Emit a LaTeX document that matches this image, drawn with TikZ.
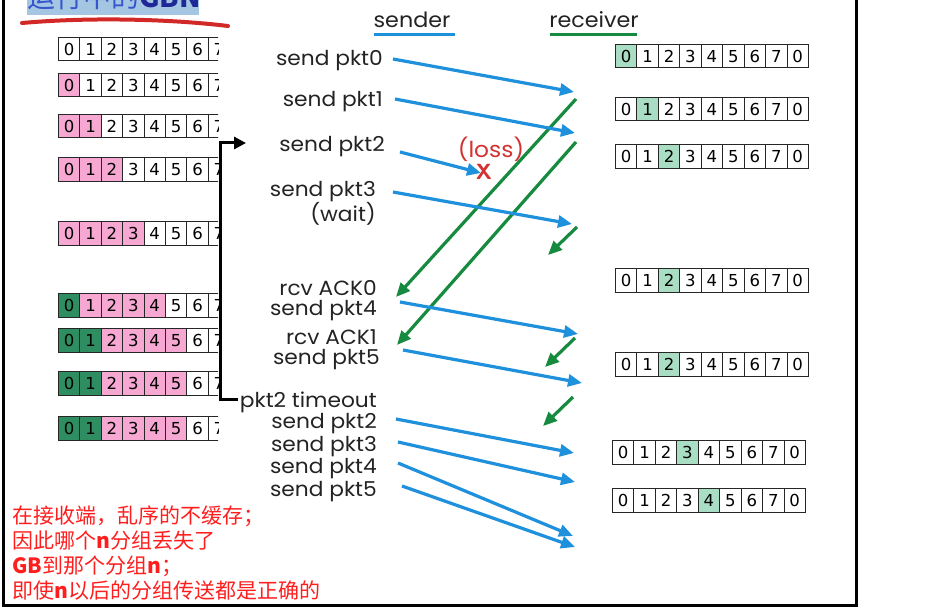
\documentclass[tikz,border=0pt]{standalone}
\usepackage{fontspec}
\setmainfont{DejaVu Sans}
\newfontfamily\lab[FakeStretch=1.06]{Poppins}
\newfontfamily\cjk{Noto Sans CJK SC}
\newfontfamily\cellfont{DejaVu Sans}
\usetikzlibrary{arrows.meta}
\definecolor{spink}{RGB}{247,168,210}
\definecolor{sgreen}{RGB}{47,142,97}
\definecolor{rgreen}{RGB}{170,222,196}
\definecolor{arrblue}{RGB}{30,144,220}
\definecolor{arrgreen}{RGB}{22,138,62}
\definecolor{redtxt}{RGB}{255,30,30}
\definecolor{losred}{RGB}{210,50,50}
\definecolor{labgray}{RGB}{35,35,35}
\definecolor{hlblue}{RGB}{164,198,226}
\definecolor{titleblue}{RGB}{55,85,205}
\definecolor{titledark}{RGB}{30,40,150}
\definecolor{swoosh}{RGB}{210,40,40}
\tikzset{
  lbl/.style={font=\lab\fontsize{20.5}{20.5}\selectfont, text=labgray, anchor=east, inner sep=0pt},
  cellbox/.style={draw=black!85, line width=0.8pt, minimum width=21.4pt, minimum height=23.5pt,
    inner sep=0pt, font=\cellfont\fontsize{16.5}{16.5}\selectfont},
  bluearr/.style={draw=arrblue, line width=3.2pt, -{Triangle[length=14pt,width=12pt]}},
  greenarr/.style={draw=arrgreen, line width=3.2pt, -{Triangle[length=14pt,width=12pt]}},
  redcn/.style={font=\cjk\fontsize{21}{21}\selectfont, text=redtxt, anchor=west, inner sep=0pt}
}
\newcommand\swin[4]{%
  \begin{scope}
  \clip (0,0) rectangle (218,615);
  \foreach \i in {0,...,7}{%
    \ifnum\i<#3\relax\def\fc{sgreen}\else\ifnum\i<#4\relax\def\fc{spink}\else\def\fc{white}\fi\fi
    \node[cellbox, fill=\fc, anchor=north west] (#1c\i) at ({58+21.4*\i},#2) {\i};
  }
  \end{scope}}
\newcommand\rwin[4]{%
  \foreach \d [count=\k from 0] in {0,1,2,3,4,5,6,7,0}{%
    \ifnum\k=#4\relax\def\fc{rgreen}\else\def\fc{white}\fi
    \node[cellbox, fill=\fc, anchor=north west] (#1c\k) at ({#2+21.45*\k},#3) {\d};
  }}
\begin{document}
\begin{tikzpicture}[x=1pt,y=-1pt]
\useasboundingbox (0,0) rectangle (945,615);
\clip (0,0) rectangle (945,615);
% frame
\draw[line width=3pt] (3,-10) rectangle (856,605);
% title
\fill[hlblue] (27,-2) rectangle (199,15);
\node[anchor=base west, inner sep=0pt, font=\cjk\fontsize{28}{28}\selectfont] (title) at (27,8)
  {\textcolor{titleblue}{运行中的}\textcolor{titledark}{\bfseries GBN}};
\draw[swoosh, line width=4pt, line cap=round] (22,23) .. controls (90,17) and (170,19) .. (228,26);
% headers
\node[font=\lab\fontsize{21}{21}\selectfont, text=labgray, inner sep=0pt] (sender) at (412,20) {sender};
\node[font=\lab\fontsize{21}{21}\selectfont, text=labgray, inner sep=0pt] (receiver) at (594,20) {receiver};
\draw[arrblue, line width=3pt] (374,35) -- (455,35);
\draw[arrgreen, line width=3pt] (550,35) -- (637,35);
% sender windows
\swin{sa}{37}{0}{0}
\swin{sb}{73}{0}{1}
\swin{sc}{114}{0}{2}
\swin{sd}{157}{0}{3}
\swin{se}{221}{0}{4}
\swin{sf}{293}{1}{5}
\swin{sg}{328}{2}{6}
\swin{sh}{371}{2}{6}
\swin{si}{416}{2}{6}
% receiver windows
\rwin{ra}{615}{44}{0}
\rwin{rb}{615}{97}{1}
\rwin{rc}{615}{144}{2}
\rwin{rd}{615}{268}{2}
\rwin{re}{615}{352}{2}
\rwin{rf}{612}{440}{3}
\rwin{rg}{612}{488}{4}
% labels
\node[lbl] (l0) at (383,61) {send pkt0};
\node[lbl] (l1) at (383,102) {send pkt1};
\node[lbl] (l2) at (385,147) {send pkt2};
\node[lbl] (l3) at (376,192) {send pkt3};
\node[lbl] (lw) at (376,214) {(wait)};
\node[lbl] (a0) at (377,288) {rcv ACK0};
\node[lbl] (l4) at (377,311) {send pkt4};
\node[lbl] (a1) at (377,337) {rcv ACK1};
\node[lbl] (l5) at (380,360) {send pkt5};
\node[lbl] (tmo) at (377,402) {pkt2 timeout};
\node[lbl] (r2) at (377,424) {send pkt2};
\node[lbl] (r3) at (377,447) {send pkt3};
\node[lbl] (r4) at (377,469) {send pkt4};
\node[lbl] (r5) at (377,492) {send pkt5};
% loss
\node[font=\lab\fontsize{22}{22}\selectfont, text=losred, inner sep=0pt] (loss) at (491,149) {(loss)};
% timeout bracket
\coordinate (bs) at (238,399);
\coordinate (be) at (246,143);
\draw[line width=3pt, -{Triangle[length=12pt,width=12pt]}] (bs) -- (220,399) -- (220,143) -- (be);
% arrow endpoints
\coordinate (p0s) at (393,59);  \coordinate (p0e) at (574,92);
\coordinate (p1s) at (395,99);  \coordinate (p1e) at (575,133);
\coordinate (p2s) at (400,152); \coordinate (p2e) at (481,173);
\coordinate (p3s) at (393,192); \coordinate (p3e) at (572,224);
\coordinate (k0s) at (576,99);  \coordinate (k0e) at (396,297);
\coordinate (k1s) at (576,142); \coordinate (k1e) at (397,345);
\coordinate (k2s) at (577,227); \coordinate (k2e) at (548,255);
\coordinate (p4s) at (400,302); \coordinate (p4e) at (578,334);
\coordinate (k3s) at (575,338); \coordinate (k3e) at (545,367);
\coordinate (p5s) at (403,350); \coordinate (p5e) at (582,383);
\coordinate (k4s) at (573,397); \coordinate (k4e) at (543,426);
\coordinate (q2s) at (396,419); \coordinate (q2e) at (574,453);
\coordinate (q3s) at (398,442); \coordinate (q3e) at (575,482);
\coordinate (q4s) at (398,463); \coordinate (q4e) at (573,536);
\coordinate (q5s) at (402,486); \coordinate (q5e) at (575,547);
% green ACK arrows
\draw[greenarr] (k0s) -- (k0e);
\draw[greenarr] (k1s) -- (k1e);
\draw[greenarr] (k2s) -- (k2e);
\draw[greenarr] (k3s) -- (k3e);
\draw[greenarr] (k4s) -- (k4e);
% blue packet arrows
\draw[bluearr] (p0s) -- (p0e);
\draw[bluearr] (p1s) -- (p1e);
\draw[bluearr] (p2s) -- (p2e);
\draw[bluearr] (p3s) -- (p3e);
\draw[bluearr] (p4s) -- (p4e);
\draw[bluearr] (p5s) -- (p5e);
\draw[bluearr] (q2s) -- (q2e);
\draw[bluearr] (q3s) -- (q3e);
\draw[bluearr] (q4s) -- (q4e);
\draw[bluearr] (q5s) -- (q5e);
\node[font=\sffamily\bfseries\fontsize{22}{22}\selectfont, text=losred, inner sep=0pt] (xmark) at (484,172) {X};
% bottom notes
\node[redcn] (n1) at (12,516) {在接收端，乱序的不缓存；};
\node[redcn] (n2) at (12,541) {因此哪个\textbf{n}分组丢失了};
\node[redcn] (n3) at (12,566) {\textbf{GB}到那个分组\textbf{n}；};
\node[redcn] (n4) at (12,591) {即使\textbf{n}以后的分组传送都是正确的};
\end{tikzpicture}
\end{document}
